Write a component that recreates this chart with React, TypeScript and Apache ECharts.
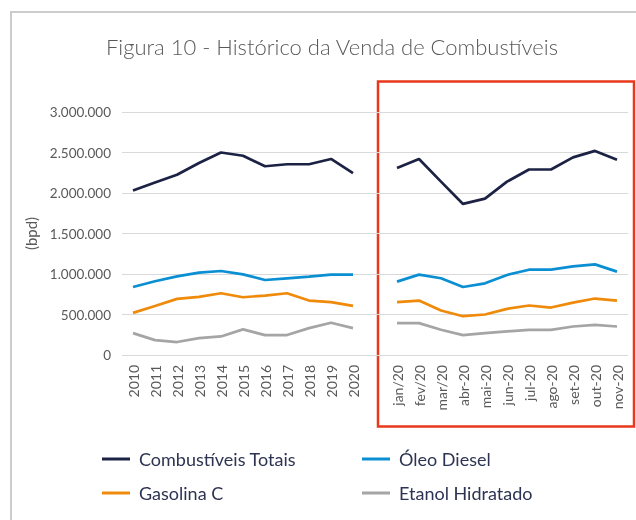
import React, { useEffect, useRef } from "react";
import * as echarts from "echarts";

const years = ["2010", "2011", "2012", "2013", "2014", "2015", "2016", "2017", "2018", "2019", "2020"];
const months = ["jan/20", "fev/20", "mar/20", "abr-20", "mai-20", "jun-20", "jul-20", "ago-20", "set-20", "out-20", "nov-20"];
const categories = [...years, "", ...months];

const totaisAnual = [2030000, 2130000, 2225000, 2370000, 2500000, 2460000, 2330000, 2355000, 2355000, 2420000, 2245000];
const totaisMensal = [2310000, 2420000, 2140000, 1865000, 1930000, 2140000, 2290000, 2290000, 2440000, 2520000, 2410000];
const dieselAnual = [840000, 910000, 971000, 1016000, 1037000, 996000, 926000, 947000, 967000, 992000, 992000];
const dieselMensal = [906000, 992000, 947000, 840000, 885000, 988000, 1053000, 1053000, 1094000, 1119000, 1029000];
const gasolinaAnual = [520000, 606000, 693000, 717000, 762000, 713000, 734000, 762000, 672000, 652000, 606000];
const gasolinaMensal = [652000, 672000, 549000, 479000, 500000, 570000, 611000, 586000, 647000, 697000, 672000];
const etanolAnual = [270000, 184000, 160000, 209000, 229000, 316000, 246000, 246000, 332000, 398000, 332000];
const etanolMensal = [393000, 393000, 311000, 246000, 270000, 291000, 311000, 311000, 352000, 373000, 352000];

const seriesNames = ["Combustíveis Totais", "Óleo Diesel", "Gasolina C", "Etanol Hidratado"];
const colors = ["#1c2244", "#0b8fd3", "#ef8a0a", "#a5a5a5"];

const join = (a: number[], b: number[]) => [...a, null, ...b];

const fmt = (v: number) => String(v).replace(/\B(?=(\d{3})+(?!\d))/g, ".");

export default function App() {
  const ref = useRef<HTMLDivElement>(null);
  useEffect(() => {
    if (!ref.current) return;
    const chart = echarts.init(ref.current, undefined, { renderer: "svg" });
    const font = "Lato, 'Open Sans', sans-serif";
    const data = [
      join(totaisAnual, totaisMensal),
      join(dieselAnual, dieselMensal),
      join(gasolinaAnual, gasolinaMensal),
      join(etanolAnual, etanolMensal),
    ];
    const legendCommon = {
      orient: "vertical",
      top: 445,
      itemWidth: 28,
      itemHeight: 3,
      itemGap: 16,
      icon: "rect",
      textStyle: { fontFamily: font, fontSize: 18, color: "#2d3352", padding: [0, 0, 0, 4] },
    };
    chart.setOption({
      animation: false,
      textStyle: { fontFamily: font },
      title: {
        text: "Figura 10 - Histórico da Venda de Combustíveis",
        left: 327,
        textAlign: "center",
        top: 30,
        textStyle: { fontFamily: font, fontSize: 22, fontWeight: 300, color: "#595959" },
      },
      graphic: [
        {
          type: "rect",
          shape: { x: 11, y: 12, width: 640, height: 520 },
          style: { fill: "none", stroke: "#cccccc", lineWidth: 2 },
          silent: true,
        },
        {
          type: "rect",
          shape: { x: 378, y: 81.5, width: 256, height: 345 },
          style: { fill: "none", stroke: "#e8391d", lineWidth: 2.5 },
          silent: true,
        },
      ],
      legend: [
        { ...legendCommon, left: 97, data: [seriesNames[0], seriesNames[2]] },
        { ...legendCommon, left: 357, data: [seriesNames[1], seriesNames[3]] },
      ],
      grid: { left: 122, right: 8, top: 112, bottom: 165, containLabel: false },
      xAxis: {
        type: "category",
        data: categories,
        boundaryGap: true,
        axisLine: { show: false },
        axisTick: { show: false },
        axisLabel: {
          rotate: 90,
          interval: 0,
          margin: 10,
          color: "#595959",
          fontSize: 14,
          fontFamily: font,
        },
      },
      yAxis: {
        type: "value",
        min: 0,
        max: 3000000,
        interval: 500000,
        name: "(bpd)",
        nameLocation: "middle",
        nameGap: 84,
        nameRotate: 90,
        nameTextStyle: { color: "#595959", fontSize: 15, fontFamily: font },
        axisLine: { show: false },
        axisTick: { show: false },
        splitLine: { lineStyle: { color: "#d9d9d9", width: 1 } },
        axisLabel: {
          color: "#595959",
          fontSize: 13.5,
          margin: 11,
          fontFamily: font,
          formatter: (v: number) => fmt(v),
        },
      },
      series: seriesNames.map((name, i) => ({
        name,
        type: "line",
        data: data[i],
        connectNulls: false,
        showSymbol: false,
        symbol: "none",
        lineStyle: { color: colors[i], width: 2.7 },
        itemStyle: { color: colors[i] },
        z: 10 - i,
      })),
    });
    return () => chart.dispose();
  }, []);
  return <div ref={ref} style={{ position: "fixed", left: 0, top: 0, width: 636, height: 520 }} />;
}
